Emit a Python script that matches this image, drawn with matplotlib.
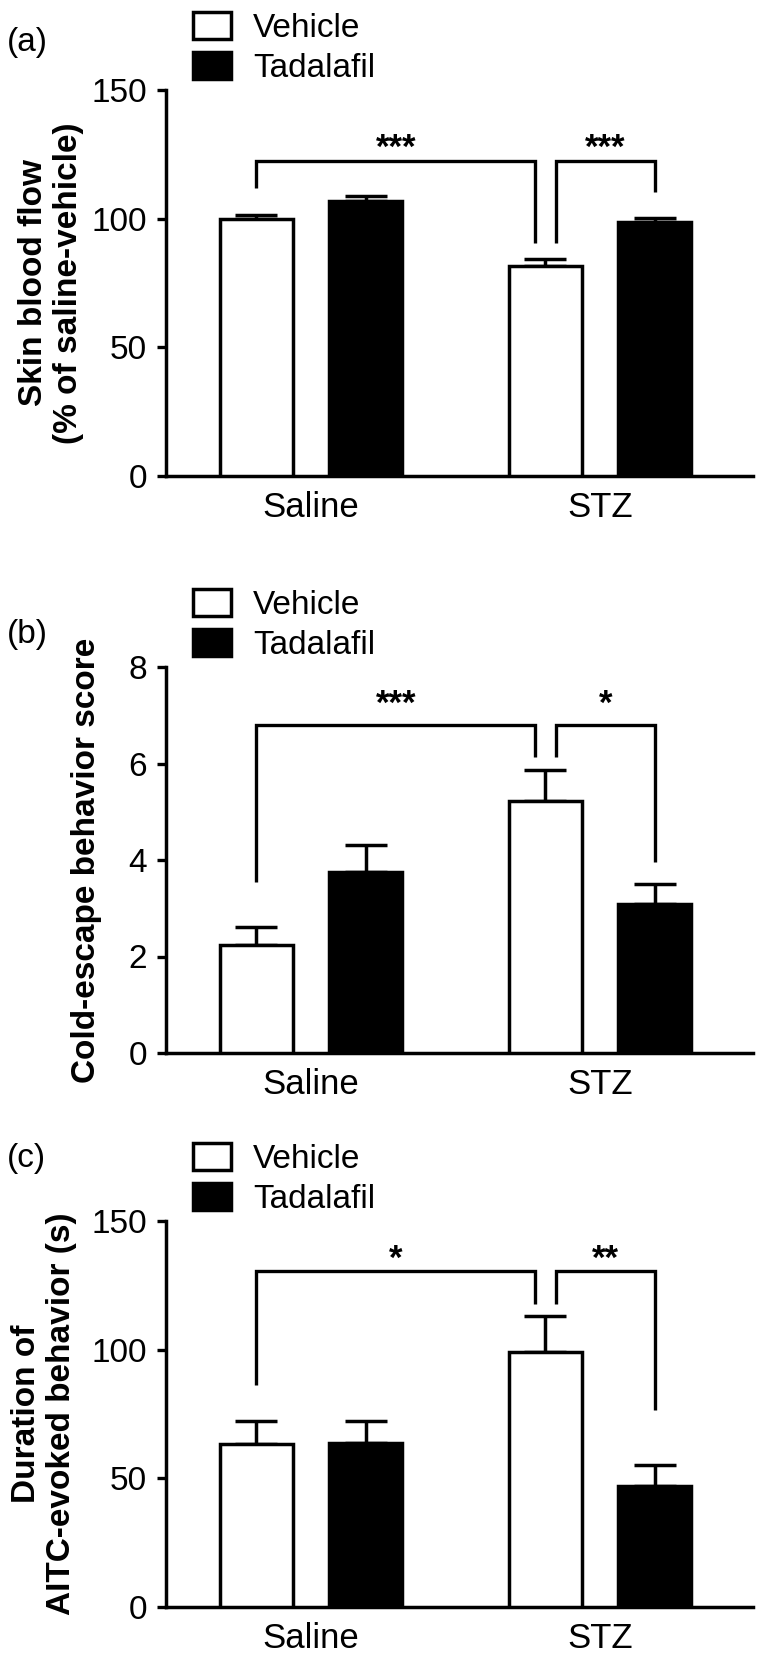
import numpy as np
import matplotlib
matplotlib.use('Agg')
import matplotlib.pyplot as plt

plt.rcParams['font.family'] = ['Liberation Sans', 'DejaVu Sans']

groups = ['Saline', 'STZ']
treatments = ['Vehicle', 'Tadalafil']

# (a) skin blood flow, % of saline-vehicle
flow_vehicle = [100.0, 81.6]
flow_vehicle_sem = [1.3, 2.7]
flow_tadalafil = [107.0, 98.7]
flow_tadalafil_sem = [1.8, 1.6]

# (b) cold-escape behavior score
cold_vehicle = [2.23, 5.23]
cold_vehicle_sem = [0.38, 0.63]
cold_tadalafil = [3.75, 3.08]
cold_tadalafil_sem = [0.56, 0.42]

# (c) duration of AITC-evoked behavior (s)
aitc_vehicle = [63.3, 98.9]
aitc_vehicle_sem = [8.8, 14.2]
aitc_tadalafil = [63.6, 46.9]
aitc_tadalafil_sem = [8.5, 8.1]

# significance brackets: (stars, bracket height, left leg end, right leg end)
flow_sig = [('***', 122.4, 111.9, 90.5), ('***', 122.4, 90.5, 110.4)]
cold_sig = [('***', 6.80, 3.55, 6.14), ('*', 6.80, 6.14, 3.96)]
aitc_sig = [('*', 130.4, 86.4, 117.9), ('**', 130.4, 117.9, 76.4)]
flow_star_y = 131.3
cold_star_y = 7.43
aitc_star_y = 139.0

W, H = 760, 1654
fig = plt.figure(figsize=(W / 100, H / 100), dpi=100)

off = 0.189   # bar offset from group centre
width = 0.253
gap = 0.036   # bracket legs next to the shared bar


def panel(top_px, letter_px, tag, veh, veh_sem, tad, tad_sem, ymax, yticks,
          ylabel, label_x, sig, star_y):
    left, right, bottom = 166, 753, top_px + 386
    ax = fig.add_axes([left / W, 1 - bottom / H, (right - left) / W, 386 / H])
    x = np.arange(len(groups))

    ax.errorbar(x - off, veh, yerr=[np.zeros(len(x)), veh_sem], fmt='none',
                ecolor='black', elinewidth=2.5, capsize=15, capthick=2.5, zorder=2)
    ax.errorbar(x + off, tad, yerr=[np.zeros(len(x)), tad_sem], fmt='none',
                ecolor='black', elinewidth=2.5, capsize=15, capthick=2.5, zorder=2)
    ax.bar(x - off, veh, width, color='white', edgecolor='black', linewidth=2.5,
           label=treatments[0], zorder=3)
    ax.bar(x + off, tad, width, color='black', edgecolor='black', linewidth=2.5,
           label=treatments[1], zorder=3)

    legs = [(x[0] - off, x[1] - off - gap), (x[1] - off + gap, x[1] + off)]
    for (stars, hgt, y0, y1), (xa, xb) in zip(sig, legs):
        ax.plot([xa, xa, xb, xb], [y0, hgt, hgt, y1], color='black', lw=2.4,
                solid_joinstyle='miter', solid_capstyle='butt', clip_on=False)
        ax.annotate(stars, ((xa + xb) / 2, star_y), xytext=(0, -14),
                    textcoords='offset points', ha='center', va='baseline',
                    fontsize=25, fontweight='bold')

    ax.set_xlim(-0.502, 1.529)
    ax.set_ylim(0, ymax)
    ax.set_yticks(yticks)
    ax.set_xticks(x)
    ax.set_xticklabels(groups)
    for s in ['top', 'right']:
        ax.spines[s].set_visible(False)
    for s in ['left', 'bottom']:
        ax.spines[s].set_linewidth(2.5)
    ax.tick_params(axis='y', length=6.5, width=2.4, labelsize=24, pad=7)
    ax.tick_params(axis='x', length=0, labelsize=25, pad=11)

    ax.set_ylabel(ylabel, fontsize=24, fontweight='bold', va='center',
                  linespacing=1.2)
    ax.yaxis.set_label_coords(label_x, 0.5)

    ax.legend(loc='lower left', bbox_to_anchor=(0.046, 1.0 + 6 / 386),
              frameon=False, fontsize=24, handlelength=1.15, handleheight=0.85,
              handletextpad=0.65, labelspacing=0.25, borderpad=0, borderaxespad=0)

    fig.text(7 / W, 1 - letter_px / H, tag, fontsize=24, ha='left', va='center')
    return ax


panel(90, 42, '(a)', flow_vehicle, flow_vehicle_sem, flow_tadalafil,
      flow_tadalafil_sem, 150, [0, 50, 100, 150],
      'Skin blood flow\n(% of saline-vehicle)', -0.196, flow_sig, flow_star_y)
panel(667, 634, '(b)', cold_vehicle, cold_vehicle_sem, cold_tadalafil,
      cold_tadalafil_sem, 8, [0, 2, 4, 6, 8],
      'Cold-escape behavior score', -0.135, cold_sig, cold_star_y)
panel(1221, 1158, '(c)', aitc_vehicle, aitc_vehicle_sem, aitc_tadalafil,
      aitc_tadalafil_sem, 150, [0, 50, 100, 150],
      'Duration of\nAITC-evoked behavior (s)', -0.208, aitc_sig, aitc_star_y)

fig.savefig('out.png', dpi=100)
